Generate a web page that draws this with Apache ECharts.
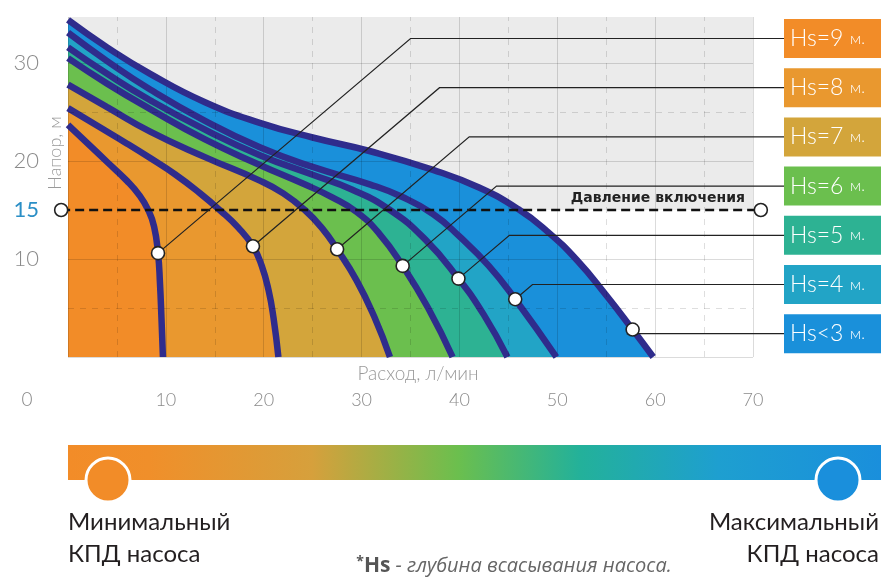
<!DOCTYPE html>
<html>
<head>
<meta charset="utf-8">
<title>Напор / расход</title>
<script src="https://cdn.jsdelivr.net/npm/echarts@6/dist/echarts.min.js"></script>
<style>
html, body { margin: 0; padding: 0; background: #fff; }
#chart { width: 881px; height: 578px; }
</style>
</head>
<body>
<div id="chart"></div>
<script>
// глубина всасывания, сверху вниз как в легенде
var depthNames = ['Hs=9', 'Hs=8', 'Hs=7', 'Hs=6', 'Hs=5', 'Hs=4', 'Hs<3'];
var depthColors = ['#f28c28', '#e9982f', '#d3a53b', '#6bbf4e', '#2db293', '#22a4c6', '#1a90da'];

// кривые Q-H: [расход л/мин, напор м]
var curveHs9 = [[0, 23.7], [2, 21.8], [4, 19.9], [6, 18.0], [7.3, 16.5], [8.2, 15.0], [8.8, 13.3], [9.2, 10.6], [9.4, 7.5], [9.55, 4], [9.7, 0]];
var curveHs8 = [[0, 25.4], [3, 23.6], [6, 21.8], [8.4, 20.3], [11, 18.6], [13.5, 16.7], [15.5, 15.0], [17.4, 13.2], [18.9, 11.3], [19.8, 9.3], [20.5, 6.8], [21.0, 4.0], [21.5, 0]];
var curveHs7 = [[0, 27.8], [4, 25.5], [8.4, 23.0], [14, 20.4], [19.6, 18.0], [22, 16.7], [24.2, 15.0], [26, 13.1], [27.5, 11.0], [29.5, 7.8], [31.3, 4.1], [32.9, 0]];
var curveHs6 = [[0, 30.5], [4, 27.9], [8.4, 25.3], [14, 22.2], [19.6, 19.6], [24, 17.7], [27, 16.3], [29.5, 14.8], [31.8, 12.6], [34.2, 9.3], [36.8, 5.0], [39.3, 0]];
var curveHs5 = [[0, 31.6], [4, 28.9], [8.4, 26.2], [14, 23.2], [19.6, 20.6], [25, 18.6], [29, 17.1], [32.9, 15.0], [36.5, 12.0], [39.9, 8.0], [42.5, 4.3], [44.9, 0]];
var curveHs4 = [[0, 33.1], [4, 30.2], [8.4, 27.3], [14, 24.1], [19.6, 21.4], [25, 19.4], [30.9, 17.6], [34, 16.4], [37.3, 14.6], [40, 12.3], [43, 9.3], [45.7, 5.9], [49.9, 0]];
var curveHs3 = [[0, 34.4], [4, 31.6], [8.4, 28.9], [14, 26.0], [19.6, 23.9], [25, 22.4], [30.9, 21.0], [37.3, 19.1], [42, 17.3], [46, 15.1], [49, 12.8], [52, 9.9], [55, 6.3], [57.7, 2.8], [59.8, 0]];
var curves = [curveHs9, curveHs8, curveHs7, curveHs6, curveHs5, curveHs4, curveHs3];

// точки выносок на кривых
var calloutPoints = [[9.2, 10.6], [18.9, 11.3], [27.5, 11.0], [34.2, 9.3], [39.9, 8.0], [45.7, 5.9], [57.7, 2.8]];

// давление включения
var pressureOn = 15;
var pressureSpan = [-0.7, 70.8];

var flowMax = 70;
var headMax = 34.7;
var headLabels = [10, 15, 20, 30];
var flowHalfTicks = [5, 15, 25, 35, 45, 55, 65];
var headHalfTicks = [5, 25];

var chart = echarts.init(document.getElementById('chart'));
var thin = 'Lato';
var lineBlue = '#2f2c8c';
var smoothness = 0.5;

var series = [];

// серый фон выше давления включения
series.push({
    type: 'line',
    data: [[0, pressureOn]],
    symbol: 'none',
    lineStyle: { opacity: 0 },
    silent: true,
    z: 0,
    markArea: {
        silent: true,
        itemStyle: { color: '#ebebeb' },
        data: [[{ yAxis: pressureOn }, { yAxis: headMax }]]
    }
});

// заливки, от внешней к внутренней
for (var i = curves.length - 1; i >= 0; i--) {
    series.push({
        type: 'line',
        data: curves[i],
        smooth: smoothness,
        symbol: 'none',
        silent: true,
        lineStyle: { width: 0 },
        areaStyle: { color: depthColors[i], opacity: 1 },
        z: 1 + (curves.length - 1 - i) * 0.1
    });
}

// пунктирная сетка через 5
series.push({
    type: 'line',
    data: [[0, 0]],
    symbol: 'none',
    lineStyle: { opacity: 0 },
    silent: true,
    z: 3,
    markLine: {
        silent: true,
        symbol: 'none',
        label: { show: false },
        lineStyle: { color: 'rgba(0,0,0,0.13)', width: 1, type: [6, 6] },
        data: flowHalfTicks.map(function (v) { return { xAxis: v }; })
            .concat(headHalfTicks.map(function (v) { return { yAxis: v }; }))
    }
});

curves.forEach(function (c) {
    series.push({
        type: 'line',
        data: c,
        smooth: smoothness,
        symbol: 'none',
        silent: true,
        lineStyle: { color: lineBlue, width: 6.5 },
        z: 4
    });
});

series.push({
    type: 'line',
    data: [[pressureSpan[0], pressureOn], [pressureSpan[1], pressureOn]],
    clip: false,
    symbol: 'circle',
    symbolSize: 13,
    showSymbol: true,
    silent: true,
    lineStyle: { color: '#111', width: 2.5, type: [9, 5] },
    itemStyle: { color: '#fff', borderColor: '#222', borderWidth: 1.6 },
    z: 5
});

series.push({
    type: 'scatter',
    data: calloutPoints,
    symbolSize: 13,
    silent: true,
    itemStyle: { color: '#fff', borderColor: '#222', borderWidth: 1.6, opacity: 1 },
    z: 7
});

var option = {
    animation: false,
    grid: { left: 68, right: 128, top: 17, bottom: 221 },
    xAxis: {
        type: 'value',
        min: 0,
        max: flowMax,
        interval: 10,
        z: 3,
        axisLine: { show: false },
        axisTick: { show: false },
        axisLabel: {
            margin: 34,
            color: '#8a8a8a',
            fontSize: 18,
            fontFamily: thin,
            fontWeight: 300,
            formatter: function (v) { return v === 0 ? '' : v; }
        },
        splitLine: { show: true, lineStyle: { color: 'rgba(0,0,0,0.14)', width: 1 } }
    },
    yAxis: {
        type: 'value',
        min: 0,
        max: headMax,
        interval: 5,
        z: 3,
        axisLine: { show: false },
        axisTick: { show: false },
        axisLabel: {
            margin: 29,
            color: '#8a8a8a',
            fontSize: 22,
            fontFamily: thin,
            fontWeight: 300,
            formatter: function (v) {
                if (v === pressureOn) return '{p|' + v + '}';
                return headLabels.indexOf(v) >= 0 ? v : '';
            },
            rich: { p: { color: '#2b8fc6', fontSize: 22, fontFamily: thin, fontWeight: 400 } }
        },
        splitLine: { show: true, lineStyle: { color: ['rgba(0,0,0,0.14)', 'rgba(0,0,0,0)'], width: 1 } }
    },
    series: series
};

chart.setOption(option);

// выноски и подписи глубины
var boxLeft = 784, boxTop = 19, boxStep = 49.2, boxH = 39;
var g = [];
calloutPoints.forEach(function (p, i) {
    var a = chart.convertToPixel({ gridIndex: 0 }, p);
    var by = boxTop + i * boxStep + boxH / 2;
    var bendX = a[0] + (a[1] - by) / 0.85;
    g.push({
        type: 'polyline',
        silent: true,
        z: 6,
        shape: { points: [a, [bendX, by], [boxLeft, by]] },
        style: { stroke: '#222', lineWidth: 1.2, fill: null }
    });
    g.push({
        type: 'rect',
        silent: true,
        z: 6,
        shape: { x: boxLeft, y: by - boxH / 2, width: 120, height: boxH },
        style: { fill: depthColors[i] }
    });
    g.push({
        type: 'text',
        silent: true,
        z: 7,
        x: boxLeft + 6,
        y: by,
        style: {
            text: '{a|' + depthNames[i] + '}  {b|м.}',
            textVerticalAlign: 'middle',
            rich: {
                a: { fill: '#fff', fontSize: 23, fontFamily: thin, fontWeight: 300 },
                b: { fill: '#fff', fontSize: 16, fontFamily: thin, fontWeight: 300 }
            }
        }
    });
});

var pEnd = chart.convertToPixel({ gridIndex: 0 }, [flowMax, pressureOn]);
g.push({
    type: 'text', silent: true, z: 6,
    x: pEnd[0] - 8, y: pEnd[1] - 5,
    style: { text: 'Давление включения', fill: '#222', font: 'bold 14px "DejaVu Sans"', textAlign: 'right', textVerticalAlign: 'bottom' }
});

var origin = chart.convertToPixel({ gridIndex: 0 }, [0, 0]);
g.push({
    type: 'text', silent: true,
    x: 27, y: origin[1] + 43,
    style: { text: '0', fill: '#8a8a8a', font: '300 19px Lato', textAlign: 'center', textVerticalAlign: 'middle' }
});
// подписи осей
g.push({
    type: 'text', silent: true,
    x: 418, y: origin[1] + 17,
    style: { text: 'Расход, л/мин', fill: '#9a9a9a', font: '300 19px Lato', textAlign: 'center', textVerticalAlign: 'middle' }
});
g.push({
    type: 'text', silent: true,
    x: 55, y: 153, rotation: Math.PI / 2,
    style: { text: 'Напор, м', fill: '#9a9a9a', font: '300 18px Lato', textAlign: 'center', textVerticalAlign: 'middle' }
});

// шкала КПД
g.push({
    type: 'rect', silent: true,
    shape: { x: 68, y: 445, width: 813, height: 35 },
    style: {
        fill: new echarts.graphic.LinearGradient(0, 0, 1, 0, [
            { offset: 0, color: '#f28c28' },
            { offset: 0.1, color: '#f08f2a' },
            { offset: 0.3, color: '#d6a03c' },
            { offset: 0.48, color: '#6bbf4e' },
            { offset: 0.63, color: '#23b19a' },
            { offset: 0.8, color: '#1e9fd0' },
            { offset: 1, color: '#1a8fdc' }
        ])
    }
});
g.push({
    type: 'circle', silent: true,
    shape: { cx: 108, cy: 480, r: 22 },
    style: { fill: '#f28c28', stroke: '#fff', lineWidth: 3 }
});
g.push({
    type: 'circle', silent: true,
    shape: { cx: 838, cy: 480, r: 22 },
    style: { fill: '#1a8fdc', stroke: '#fff', lineWidth: 3 }
});
var capFont = '400 24px Lato';
g.push({ type: 'text', silent: true, x: 68, y: 522, style: { text: 'Минимальный', fill: '#231f20', font: capFont, textVerticalAlign: 'middle' } });
g.push({ type: 'text', silent: true, x: 68, y: 554, style: { text: 'КПД насоса', fill: '#231f20', font: capFont, textVerticalAlign: 'middle' } });
g.push({ type: 'text', silent: true, x: 879, y: 522, style: { text: 'Максимальный', fill: '#231f20', font: capFont, textAlign: 'right', textVerticalAlign: 'middle' } });
g.push({ type: 'text', silent: true, x: 879, y: 554, style: { text: 'КПД насоса', fill: '#231f20', font: capFont, textAlign: 'right', textVerticalAlign: 'middle' } });
g.push({
    type: 'text', silent: true,
    x: 514, y: 566,
    style: {
        text: '{s|*}{h|Hs}{i| - глубина всасывания насоса.}',
        textAlign: 'center',
        textVerticalAlign: 'middle',
        rich: {
            s: { fill: '#555', fontSize: 14, fontFamily: 'Open Sans', fontWeight: 'bold', verticalAlign: 'top' },
            h: { fill: '#555', fontSize: 21, fontFamily: 'Open Sans', fontWeight: 'bold' },
            i: { fill: '#666', fontSize: 20, fontFamily: 'Open Sans', fontStyle: 'italic' }
        }
    }
});

chart.setOption({ graphic: g });

window.addEventListener('resize', function () {
    chart.resize();
});
</script>
</body>
</html>
